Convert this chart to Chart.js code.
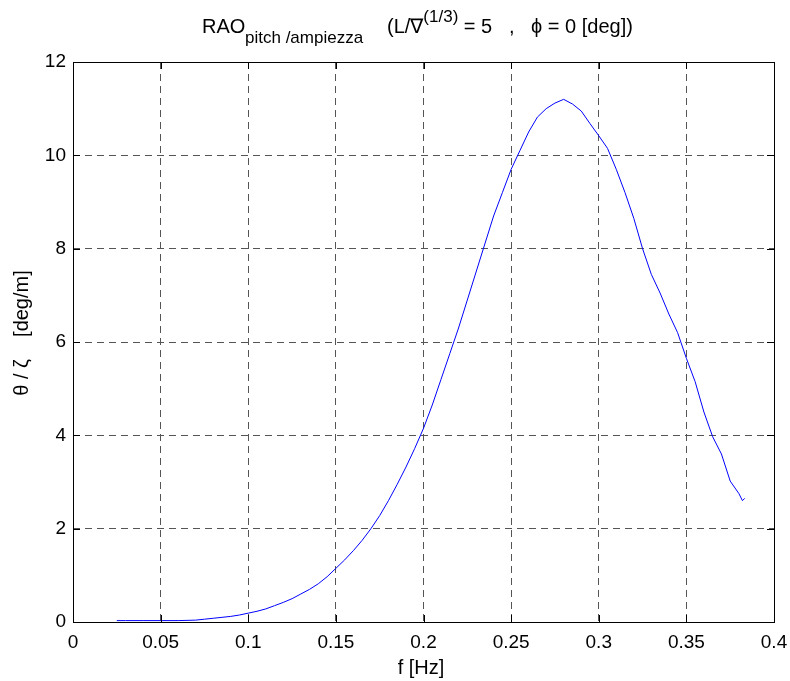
<!DOCTYPE html>
<html><head><meta charset="utf-8">
<script src="https://cdn.jsdelivr.net/npm/chart.js@4"></script>
<style>html,body{margin:0;padding:0;background:#fff}#wrap{width:790px;height:681px;position:relative}</style>
</head><body><div id="wrap"><canvas id="c" width="790" height="681"></canvas></div>
<script>
const freq = [0.025,0.03,0.04,0.05,0.06,0.07,0.075,0.08,0.085,0.09,0.095,0.1,0.105,0.11,0.115,0.12,0.125,0.13,0.135,0.14,0.145,0.15,0.155,0.16,0.165,0.17,0.175,0.18,0.185,0.19,0.195,0.2,0.205,0.21,0.215,0.22,0.225,0.23,0.235,0.24,0.245,0.25,0.255,0.26,0.265,0.27,0.275,0.28,0.285,0.29,0.295,0.3,0.305,0.31,0.315,0.32,0.325,0.33,0.335,0.34,0.345,0.35,0.355,0.36,0.365,0.37,0.375,0.38,0.382,0.3833];
const rao = [0.03,0.03,0.03,0.03,0.03,0.04,0.06,0.08,0.1,0.12,0.15,0.19,0.23,0.28,0.35,0.42,0.5,0.6,0.7,0.82,0.97,1.15,1.33,1.53,1.75,2.0,2.28,2.6,2.95,3.32,3.72,4.15,4.65,5.2,5.75,6.3,6.9,7.5,8.1,8.7,9.2,9.7,10.1,10.5,10.82,11.0,11.12,11.2,11.1,10.95,10.68,10.42,10.15,9.7,9.2,8.65,8.0,7.45,7.05,6.6,6.2,5.65,5.15,4.5,3.97,3.6,3.02,2.75,2.6,2.65];
const xTicks = [0,0.05,0.1,0.15,0.2,0.25,0.3,0.35,0.4];
const yTicks = [0,2,4,6,8,10,12];
const FONT = '"Liberation Sans", Arial, sans-serif';

const deco = {
  id:'deco',
  afterDraw(chart){
    const {ctx, chartArea:a, scales:{x,y}} = chart;
    ctx.save();
    ctx.strokeStyle='#000'; ctx.lineWidth=1;
    ctx.strokeRect(Math.round(a.left)+0.5, Math.round(a.top)+0.5, Math.round(a.right-a.left), Math.round(a.bottom-a.top));
    ctx.beginPath();
    xTicks.forEach(v=>{const px=Math.round(x.getPixelForValue(v))+0.5; ctx.moveTo(px,a.bottom); ctx.lineTo(px,a.bottom-7); ctx.moveTo(px,a.top); ctx.lineTo(px,a.top+7);});
    yTicks.forEach(v=>{const py=Math.round(y.getPixelForValue(v))+0.5; ctx.moveTo(a.left,py); ctx.lineTo(a.left+7,py); ctx.moveTo(a.right,py); ctx.lineTo(a.right-7,py);});
    ctx.stroke();
    ctx.fillStyle='#000';
    // title
    const cy=33;
    ctx.textBaseline='alphabetic'; ctx.textAlign='left';
    ctx.font='20px '+FONT; ctx.fillText('RAO',202,cy);
    ctx.font='17px '+FONT; ctx.fillText('pitch /ampiezza',245,cy+10);
    ctx.font='20px '+FONT; ctx.fillText('(L/\u2207',387,cy);
    let cx = 387 + ctx.measureText('(L/\u2207').width;
    ctx.font='17px '+FONT; ctx.fillText('(1/3)',cx,cy-11); cx += ctx.measureText('(1/3)').width;
    ctx.font='20px '+FONT; ctx.fillText(' = 5   ,   \u03D5 = 0 [deg])',cx,cy);
    // x label
    ctx.font='20px '+FONT; ctx.textAlign='center';
    ctx.fillText('f [Hz]', 421, 674);
    // y label
    ctx.translate(28, 333); ctx.rotate(-Math.PI/2);
    ctx.fillText('\u03B8 / \u03B6    [deg/m]', 0, 0);
    ctx.restore();
  }
};

new Chart(document.getElementById('c'), {
  type:'line',
  data:{datasets:[{data:freq.map((f,i)=>({x:f,y:rao[i]})), borderColor:'#0000ff', borderWidth:1, pointRadius:0, tension:0, fill:false}]},
  options:{
    responsive:false, animation:false,
    layout:{padding:{left:0,right:16,top:62,bottom:0}},
    plugins:{legend:{display:false}, tooltip:{enabled:false}, title:{display:false}},
    scales:{
      x:{type:'linear', min:0, max:0.4, afterBuildTicks:s=>{s.ticks=xTicks.map(v=>({value:v}));},
        afterFit:s=>{s.height=59; s.paddingLeft=0; s.paddingRight=0;},
        grid:{color:'#555', drawTicks:false, lineWidth:1},
        border:{display:false, dash:[7,5]},
        ticks:{color:'#000', font:{family:FONT,size:19}, padding:9, maxRotation:0, callback:v=>String(v)}},
      y:{type:'linear', min:0, max:12, afterBuildTicks:s=>{s.ticks=yTicks.map(v=>({value:v}));},
        afterFit:s=>{s.width=73; s.paddingTop=0; s.paddingBottom=0;},
        grid:{color:'#555', drawTicks:false, lineWidth:1},
        border:{display:false, dash:[7,5]},
        ticks:{color:'#000', font:{family:FONT,size:19}, padding:7, callback:v=>String(v)}}
    }
  },
  plugins:[deco]
});
</script></body></html>
